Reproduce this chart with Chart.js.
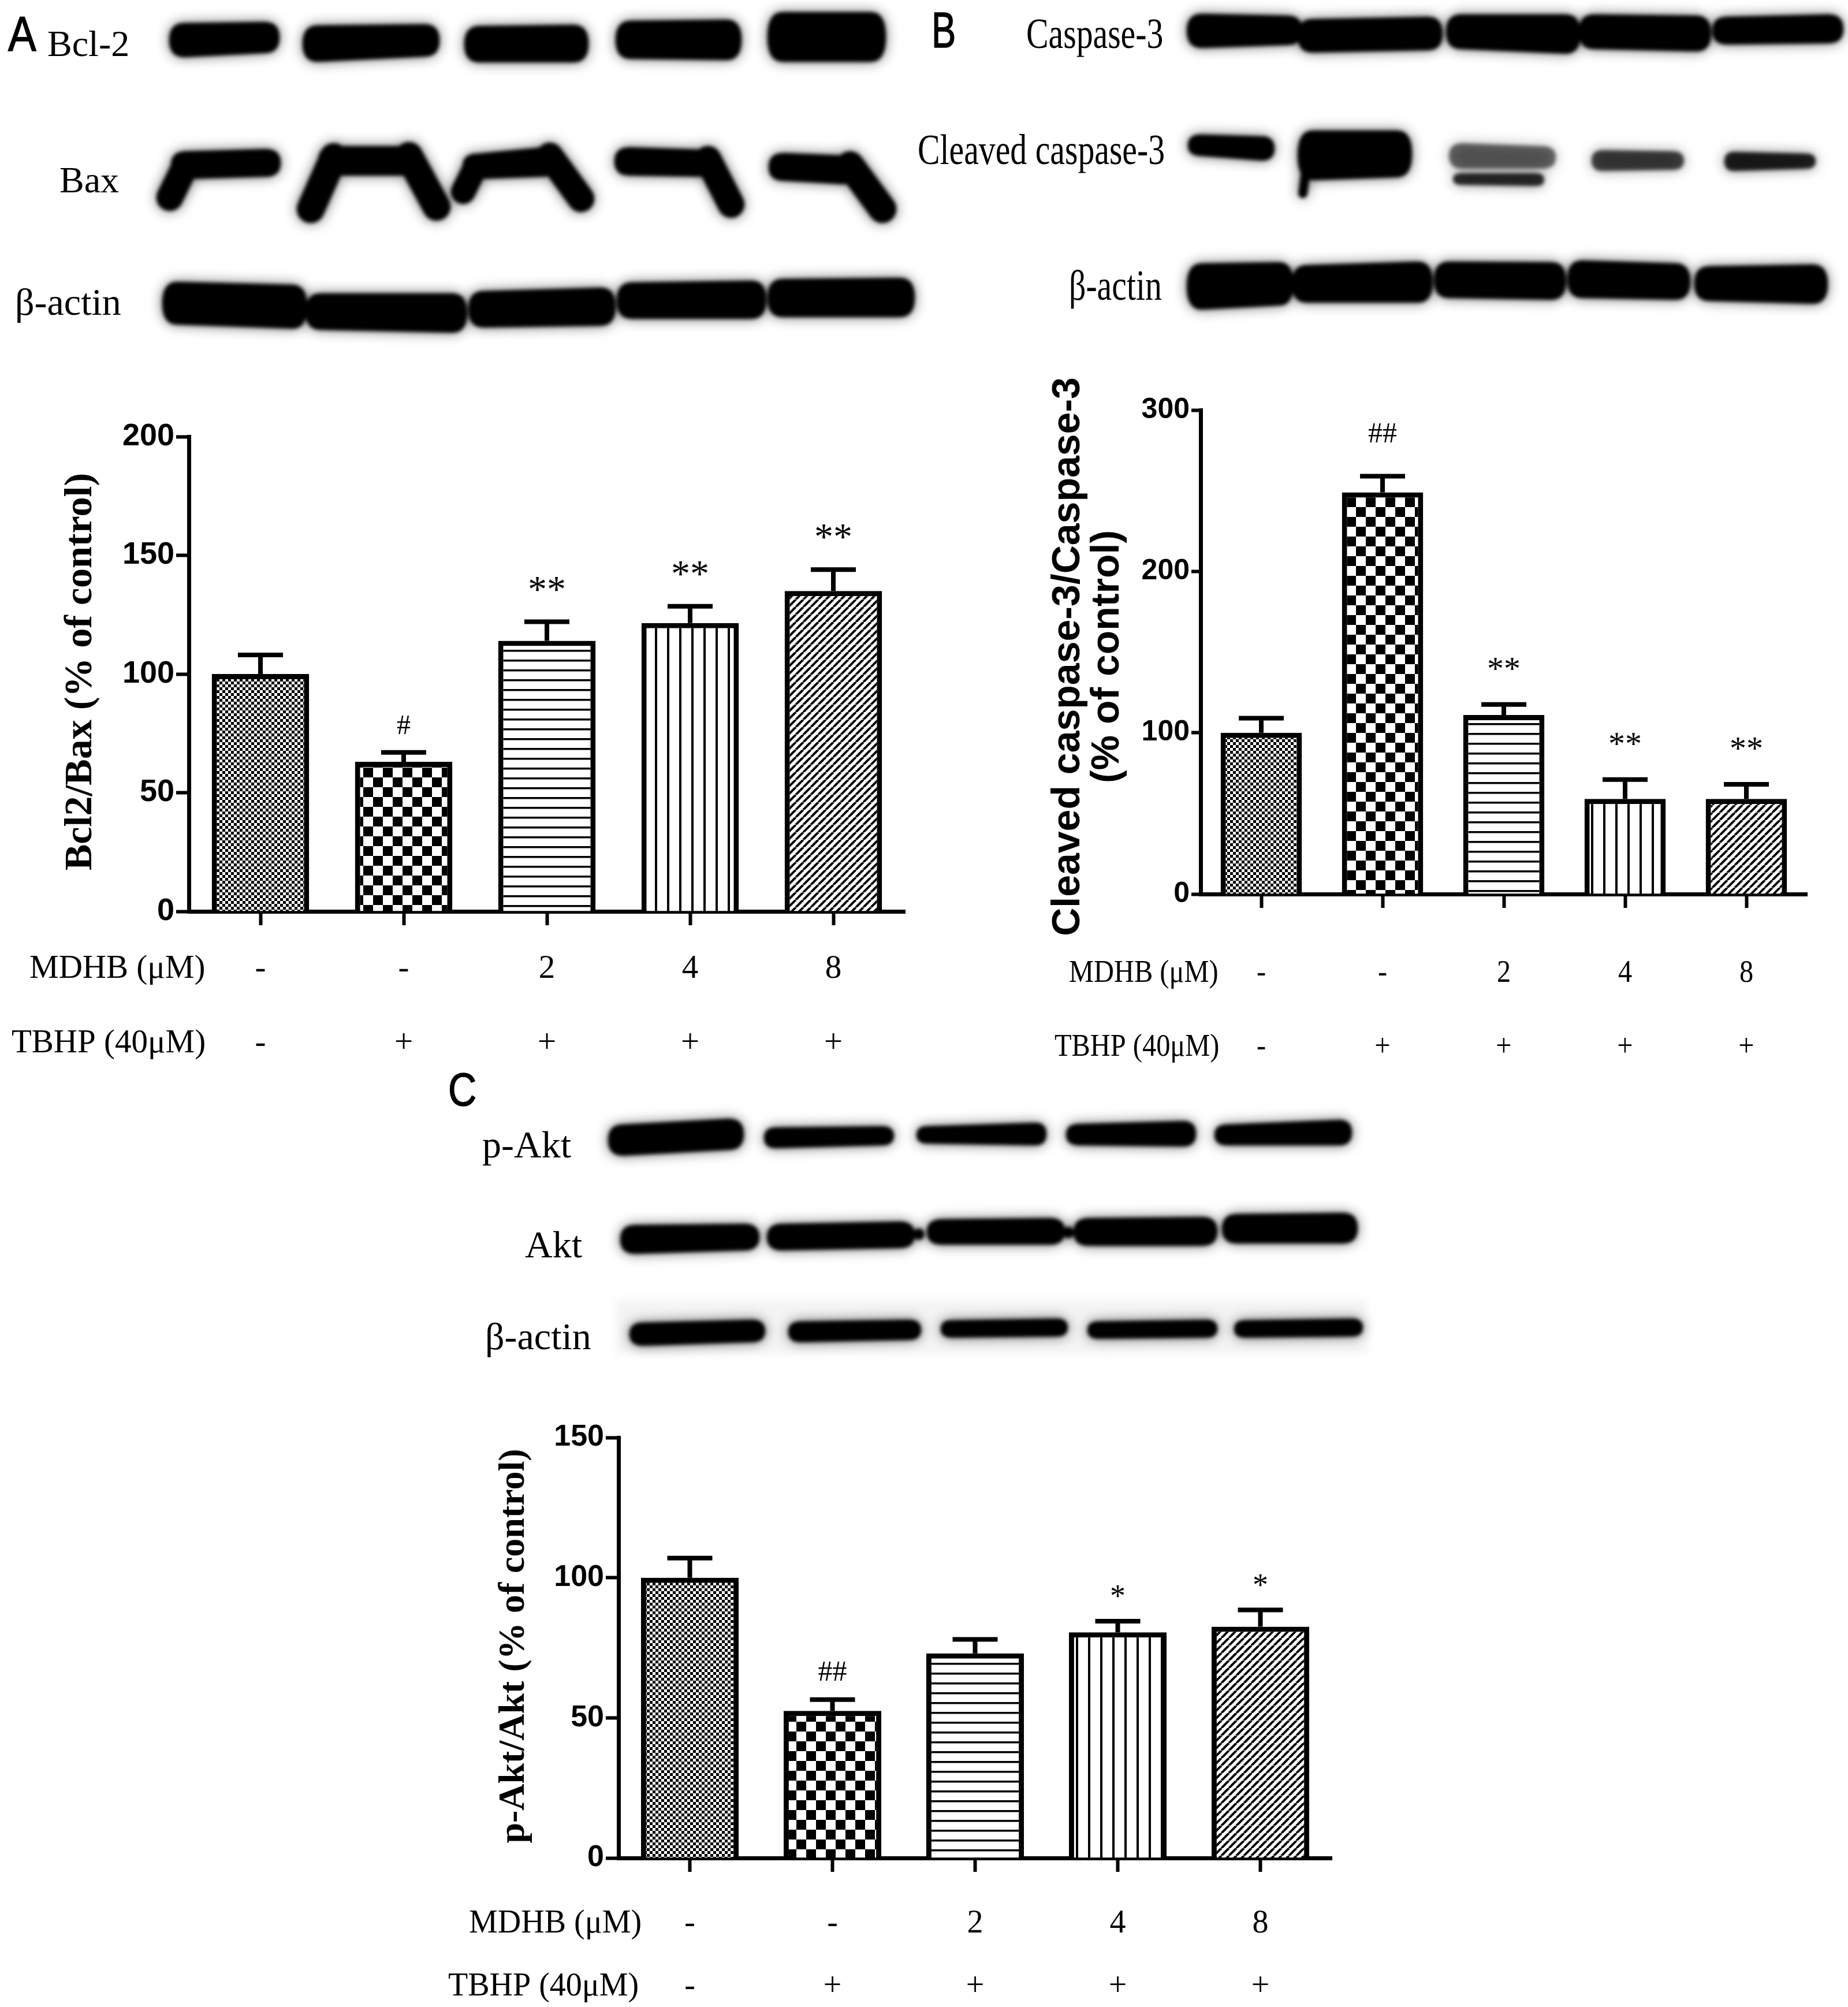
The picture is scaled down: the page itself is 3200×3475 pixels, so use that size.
<!DOCTYPE html>
<html>
<head>
<meta charset="utf-8">
<title>MDHB western blots</title>
<script src="https://cdn.jsdelivr.net/npm/chart.js"></script>
<style>
  html, body { margin: 0; padding: 0; background: #fff; }
  #page { position: relative; width: 3200px; height: 3475px; overflow: hidden; background: #fff; }
  #page canvas { position: absolute; }
  .lbl { position: absolute; font-family: "Liberation Serif", "Times New Roman", serif; color: #000;
         line-height: 1; white-space: nowrap; transform-origin: left center; transform: translateY(-50%); }
  .narrow { transform: translateY(-50%) scaleX(0.77); }
  .letter { position: absolute; font-family: "Liberation Sans Narrow", "Liberation Sans", Arial, sans-serif;
            color: #000; line-height: 1; transform-origin: left center; transform: translateY(-50%) scaleX(0.85);
            -webkit-text-stroke: 1.5px #000; }
</style>
</head>
<body>
<div id="page">
  <canvas id="blots" width="3200" height="2400" style="left:0;top:0"></canvas>
  <canvas id="chartA" width="1600" height="1200" style="left:0;top:700px"></canvas>
  <canvas id="chartB" width="1600" height="1260" style="left:1600px;top:640px"></canvas>
  <canvas id="chartC" width="1650" height="1055" style="left:750px;top:2420px"></canvas>

  <!-- panel A blot labels -->
  <div class="letter" style="left:14px;top:58px;font-size:86px">A</div>
  <div class="lbl" style="left:82px;top:76px;font-size:64px">Bcl-2</div>
  <div class="lbl" style="left:103px;top:312px;font-size:64px">Bax</div>
  <div class="lbl" style="left:26px;top:523px;font-size:66px">β-actin</div>

  <!-- panel B blot labels -->
  <div class="letter" style="left:1613px;top:52px;font-size:88px;transform:translateY(-50%) scaleX(0.72)">B</div>
  <div class="lbl narrow" style="left:1777px;top:57px;font-size:75px">Caspase-3</div>
  <div class="lbl narrow" style="left:1589px;top:258px;font-size:75px">Cleaved caspase-3</div>
  <div class="lbl narrow" style="left:1851px;top:493px;font-size:75px">β-actin</div>

  <!-- panel C blot labels -->
  <div class="letter" style="left:776px;top:1887px;font-size:80px">C</div>
  <div class="lbl" style="left:835px;top:1982px;font-size:66px">p-Akt</div>
  <div class="lbl" style="left:909px;top:2155px;font-size:66px">Akt</div>
  <div class="lbl" style="left:840px;top:2314px;font-size:66px">β-actin</div>
</div>

<script>
// Values (% of control, mean and upper error)
const GROUPS = ["Control", "TBHP", "TBHP+MDHB 2", "TBHP+MDHB 4", "TBHP+MDHB 8"]
const MDHB_ROW = ["-", "-", "2", "4", "8"]
const TBHP_ROW = ["-", "+", "+", "+", "+"]

const BCL2_BAX = [100, 63, 114, 121.5, 135]
const BCL2_BAX_ERR = [8, 4, 8, 7, 9]
const BCL2_BAX_SIG = ["", "#", "**", "**", "**"]
const BCL2_BAX_TICKS = [0, 50, 100, 150, 200]

const CASP3_RATIO = [100, 249, 111, 59, 59]
const CASP3_RATIO_ERR = [9, 10, 6.5, 12, 9]
const CASP3_SIG = ["", "##", "**", "**", "**"]
const CASP3_TICKS = [0, 100, 200, 300]

const PAKT_AKT = [100, 52.5, 73, 80.5, 82.5]
const PAKT_AKT_ERR = [7, 4, 5, 4, 6]
const PAKT_SIG = ["", "##", "", "*", "*"]
const PAKT_TICKS = [0, 50, 100, 150]

// Blot band outlines: [x0, x1, topLeft, topRight, bottomLeft, bottomRight, tone]
const BAND_ROWS = [
  // A: Bcl-2
  [[297, 480, 40, 38, 99, 92], [528, 757, 44, 42, 107, 98], [808, 1015, 45, 43, 108, 108],
   [1070, 1280, 36, 34, 102, 104], [1333, 1530, 21, 21, 107, 107]],
  // A: Bax (top part, legs below)
  [[300, 482, 262, 258, 310, 306], [555, 728, 253, 253, 304, 304], [805, 962, 266, 255, 310, 306],
   [1068, 1240, 255, 259, 304, 306], [1335, 1482, 265, 269, 313, 319]],
  // A: beta-actin
  [[285, 528, 488, 493, 562, 569], [533, 805, 508, 508, 571, 576], [815, 1062, 504, 498, 567, 564],
   [1072, 1323, 489, 486, 552, 552], [1333, 1580, 483, 481, 549, 549]],
  // B: caspase-3
  [[2059, 2251, 24, 27, 83, 78], [2251, 2494, 33, 29, 91, 87], [2508, 2733, 25, 25, 85, 93],
   [2738, 2959, 25, 27, 85, 89], [2969, 3188, 29, 25, 77, 75]],
  // B: cleaved caspase-3
  [[2061, 2203, 233, 236, 270, 278], [2251, 2441, 226, 226, 312, 307],
   [2513, 2690, 248, 253, 292, 292, "rgba(0,0,0,0.55)"], [2520, 2670, 300, 300, 320, 322, "rgba(0,0,0,0.8)"],
   [2760, 2912, 260, 262, 296, 294, "rgba(0,0,0,0.7)"], [2990, 3140, 263, 266, 296, 292, "rgba(0,0,0,0.85)"]],
  // B: beta-actin
  [[2059, 2236, 456, 454, 536, 529], [2241, 2477, 459, 453, 524, 524], [2487, 2708, 453, 454, 516, 519],
   [2718, 2923, 451, 456, 516, 519], [2938, 3161, 461, 458, 521, 526]],
  // C: p-Akt
  [[1057, 1284, 1947, 1937, 2001, 1991], [1327, 1544, 1952, 1950, 1988, 1983], [1591, 1808, 1950, 1944, 1980, 1983],
   [1850, 2067, 1946, 1941, 1983, 1985], [2107, 2337, 1947, 1939, 1983, 1983]],
  // C: Akt
  [[1078, 1311, 2121, 2119, 2171, 2165], [1332, 1580, 2119, 2115, 2165, 2161], [1609, 1840, 2111, 2109, 2155, 2155],
   [1863, 2104, 2109, 2107, 2157, 2157], [2120, 2347, 2102, 2100, 2153, 2153]],
  // C: beta-actin
  [[1094, 1321, 2290, 2285, 2330, 2324], [1369, 1591, 2288, 2285, 2324, 2320], [1633, 1845, 2286, 2283, 2316, 2314],
   [1887, 2104, 2288, 2285, 2318, 2316], [2141, 2356, 2286, 2283, 2316, 2314]],
]
// smeared legs of the Bax bands and the cleaved caspase-3 tail: [xa, ya, xb, yb, width]
const BAND_LEGS = [
  [322, 285, 294, 342, 46],
  [578, 272, 538, 362, 48], [708, 270, 756, 358, 48],
  [824, 288, 802, 332, 42], [952, 270, 1006, 344, 46],
  [1226, 276, 1266, 354, 46],
  [1472, 286, 1528, 362, 48],
  [2262, 290, 2256, 335, 16],
]
const BAND_DOTS = [[1591, 2137, 10], [1850, 2134, 10]]

function drawBand(g, b) {
  const [x0, x1, t0, t1, b0, b1] = b
  const r = Math.min(22, (b0 - t0) / 2, (b1 - t1) / 2)
  g.beginPath()
  g.moveTo(x0 + r, t0)
  g.lineTo(x1 - r, t1)
  g.quadraticCurveTo(x1 + 4, t1, x1 + 4, (t1 + b1) / 2)
  g.quadraticCurveTo(x1 + 4, b1, x1 - r, b1)
  g.lineTo(x0 + r, b0)
  g.quadraticCurveTo(x0 - 4, b0, x0 - 4, (t0 + b0) / 2)
  g.quadraticCurveTo(x0 - 4, t0, x0 + r, t0)
  g.closePath()
  g.fill()
}

function drawBlots() {
  const main = document.getElementById("blots")
  const g = main.getContext("2d")
  // crisp shapes first, blurred once when copied to the page
  const off = document.createElement("canvas")
  off.width = main.width
  off.height = main.height
  const o = off.getContext("2d")
  BAND_ROWS.forEach((row) => {
    row.forEach((b) => {
      o.fillStyle = b[6] || "#000"
      drawBand(o, b)
    })
  })
  o.strokeStyle = "#000"
  o.fillStyle = "#000"
  o.lineCap = "round"
  BAND_LEGS.forEach(([xa, ya, xb, yb, w]) => {
    o.lineWidth = w
    o.beginPath()
    o.moveTo(xa, ya)
    o.lineTo(xb, yb)
    o.stroke()
  })
  BAND_DOTS.forEach(([cx, cy, r]) => {
    o.beginPath()
    o.arc(cx, cy, r, 0, Math.PI * 2)
    o.fill()
  })

  // faint membrane behind the panel C beta-actin strip
  g.filter = "blur(6px)"
  g.fillStyle = "#f4f4f4"
  g.fillRect(1067, 2250, 1300, 94)

  g.filter = "blur(11px)"
  g.globalAlpha = 0.6
  g.drawImage(off, 0, 0)
  g.filter = "blur(3px)"
  g.globalAlpha = 1
  g.drawImage(off, 0, 0)
  g.filter = "none"
}

// Bar fill patterns (control, TBHP, MDHB 2, 4, 8)
function makePattern(kind) {
  const c = document.createElement("canvas")
  const g = c.getContext("2d")
  if (kind === "fine") {
    c.width = c.height = 10
    g.fillStyle = "#fff"; g.fillRect(0, 0, 10, 10)
    g.fillStyle = "#000"; g.fillRect(0, 0, 5, 5); g.fillRect(5, 5, 5, 5)
  } else if (kind === "checker") {
    c.width = c.height = 34
    g.fillStyle = "#fff"; g.fillRect(0, 0, 34, 34)
    g.fillStyle = "#000"; g.fillRect(0, 0, 17, 17); g.fillRect(17, 17, 17, 17)
  } else if (kind === "horizontal") {
    c.width = 8; c.height = 17
    g.fillStyle = "#fff"; g.fillRect(0, 0, 8, 17)
    g.fillStyle = "#000"; g.fillRect(0, 0, 8, 3.5)
  } else if (kind === "vertical") {
    c.width = 21; c.height = 8
    g.fillStyle = "#fff"; g.fillRect(0, 0, 21, 8)
    g.fillStyle = "#000"; g.fillRect(0, 0, 4, 8)
  } else {
    c.width = c.height = 13
    g.fillStyle = "#fff"; g.fillRect(0, 0, 13, 13)
    g.strokeStyle = "#000"; g.lineWidth = 4
    for (const k of [-13, 0, 13]) {
      g.beginPath(); g.moveTo(k, 13); g.lineTo(k + 13, 0); g.stroke()
    }
  }
  return g.createPattern(c, "repeat")
}

const PATTERNS = ["fine", "checker", "horizontal", "vertical", "diagonal"].map(makePattern)

// Error bars, significance marks, treatment rows and the rotated axis title
function figureExtras(p) {
  return {
    id: "figureExtras",
    afterDatasetsDraw(chart) {
      const { ctx } = chart
      const y = chart.scales.y
      const meta = chart.getDatasetMeta(0)
      ctx.save()
      ctx.strokeStyle = "#000"
      ctx.fillStyle = "#000"
      ctx.lineWidth = 8
      p.values.forEach((v, i) => {
        const cx = meta.data[i].x
        const yBar = y.getPixelForValue(v)
        const yErr = y.getPixelForValue(v + p.errors[i])
        ctx.beginPath()
        ctx.moveTo(cx, yBar)
        ctx.lineTo(cx, yErr)
        ctx.moveTo(cx - 39, yErr)
        ctx.lineTo(cx + 39, yErr)
        ctx.stroke()
        const mark = p.marks[i]
        if (mark) {
          ctx.font = mark.includes("#") ? p.hashFont : p.starFont
          ctx.textAlign = "center"
          ctx.textBaseline = "middle"
          ctx.fillText(mark, cx, yErr - (mark.includes("#") ? p.hashGap : p.starGap))
        }
      })
      ctx.restore()
    },
    afterDraw(chart) {
      const { ctx } = chart
      const x = chart.scales.x
      ctx.save()
      ctx.fillStyle = "#000"
      ctx.textBaseline = "middle"
      ctx.font = p.rowFont
      const rows = [[p.rowNames[0], MDHB_ROW, p.rowY[0], p.rowX[0]], [p.rowNames[1], TBHP_ROW, p.rowY[1], p.rowX[1]]]
      rows.forEach(([name, cells, ry, rx]) => {
        ctx.save()
        ctx.translate(rx, ry)
        ctx.scale(p.rowScale, 1)
        ctx.textAlign = "left"
        ctx.fillText(name, 0, 0)
        ctx.restore()
        cells.forEach((s, i) => {
          ctx.save()
          ctx.translate(x.getPixelForValue(i), ry)
          ctx.scale(p.rowScale, 1)
          ctx.textAlign = "center"
          ctx.fillText(s, 0, 0)
          ctx.restore()
        })
      })
      // y-axis title
      const area = chart.chartArea
      const cy = (area.top + area.bottom) / 2 + p.titleShift
      ctx.font = p.titleFont
      ctx.textAlign = "center"
      p.title.forEach((line, k) => {
        ctx.save()
        ctx.translate(p.titleX[k], cy)
        ctx.rotate(-Math.PI / 2)
        ctx.fillText(line, 0, 0)
        ctx.restore()
      })
      ctx.restore()
    },
  }
}

function makeChart(id, p) {
  return new Chart(document.getElementById(id), {
    type: "bar",
    data: {
      labels: GROUPS,
      datasets: [
        {
          data: p.values,
          backgroundColor: PATTERNS,
          borderColor: "#000",
          borderWidth: 9,
          borderSkipped: "start",
          barPercentage: p.barPct,
          categoryPercentage: 1,
        },
      ],
    },
    options: {
      responsive: false,
      animation: false,
      devicePixelRatio: 1,
      layout: { padding: { left: 0, top: p.padTop, right: p.padRight, bottom: 0 } },
      plugins: { legend: { display: false }, tooltip: { enabled: false } },
      scales: {
        x: {
          grid: { offset: false, drawOnChartArea: false, drawTicks: true, tickLength: 24, tickWidth: 6, tickColor: "#000" },
          border: { display: true, color: "#000", width: 7 },
          ticks: { display: false },
          afterFit: (s) => { s.height = p.xHeight },
        },
        y: {
          min: p.ticks[0],
          max: p.ticks[p.ticks.length - 1],
          afterBuildTicks: (s) => { s.ticks = p.ticks.map((v) => ({ value: v })) },
          grid: { drawOnChartArea: false, drawTicks: true, tickLength: p.yTickLen, tickWidth: 6, tickColor: "#000" },
          border: { display: true, color: "#000", width: 7 },
          ticks: { color: "#000", padding: 3, font: { family: "Liberation Sans", size: p.tickSize, weight: "bold" } },
          afterFit: (s) => { s.width = p.yWidth },
        },
      },
    },
    plugins: [figureExtras(p)],
  })
}

drawBlots()

makeChart("chartA", {
  values: BCL2_BAX, errors: BCL2_BAX_ERR, marks: BCL2_BAX_SIG, ticks: BCL2_BAX_TICKS,
  barPct: 0.68, padTop: 56, padRight: 33, xHeight: 322, yWidth: 327, yTickLen: 22, tickSize: 54,
  starFont: "66px 'Liberation Serif'", starGap: 52, hashFont: "48px 'Liberation Serif'", hashGap: 44,
  rowNames: ["MDHB (μM)", "TBHP (40μM)"], rowX: [51, 20], rowY: [978, 1107], rowScale: 1,
  rowFont: "57px 'Liberation Serif'",
  title: ["Bcl2/Bax (% of control)"], titleX: [140], titleShift: -4, titleFont: "bold 68px 'Liberation Serif'",
})

makeChart("chartB", {
  values: CASP3_RATIO, errors: CASP3_RATIO_ERR, marks: CASP3_SIG, ticks: CASP3_TICKS,
  barPct: 0.67, padTop: 70, padRight: 71, xHeight: 352, yWidth: 479, yTickLen: 16, tickSize: 50,
  starFont: "58px 'Liberation Serif'", starGap: 58, hashFont: "50px 'Liberation Serif'", hashGap: 72,
  rowNames: ["MDHB (μM)", "TBHP (40μM)"], rowX: [251, 226], rowY: [1046, 1174], rowScale: 0.88,
  rowFont: "55px 'Liberation Serif'",
  title: ["Cleaved caspase-3/Caspase-3", "(% of control)"], titleX: [250, 318], titleShift: 8,
  titleFont: "bold 68px 'Liberation Sans'",
})

makeChart("chartC", {
  values: PAKT_AKT, errors: PAKT_AKT_ERR, marks: PAKT_SIG, ticks: PAKT_TICKS,
  barPct: 0.685, padTop: 69, padRight: 94, xHeight: 258, yWidth: 321, yTickLen: 22, tickSize: 52,
  starFont: "54px 'Liberation Serif'", starGap: 40, hashFont: "50px 'Liberation Serif'", hashGap: 46,
  rowNames: ["MDHB (μM)", "TBHP (40μM)"], rowX: [62, 26], rowY: [911, 1020], rowScale: 1,
  rowFont: "56px 'Liberation Serif'",
  title: ["p-Akt/Akt (% of control)"], titleX: [140], titleShift: -3, titleFont: "bold 64px 'Liberation Serif'",
})
</script>
</body>
</html>
